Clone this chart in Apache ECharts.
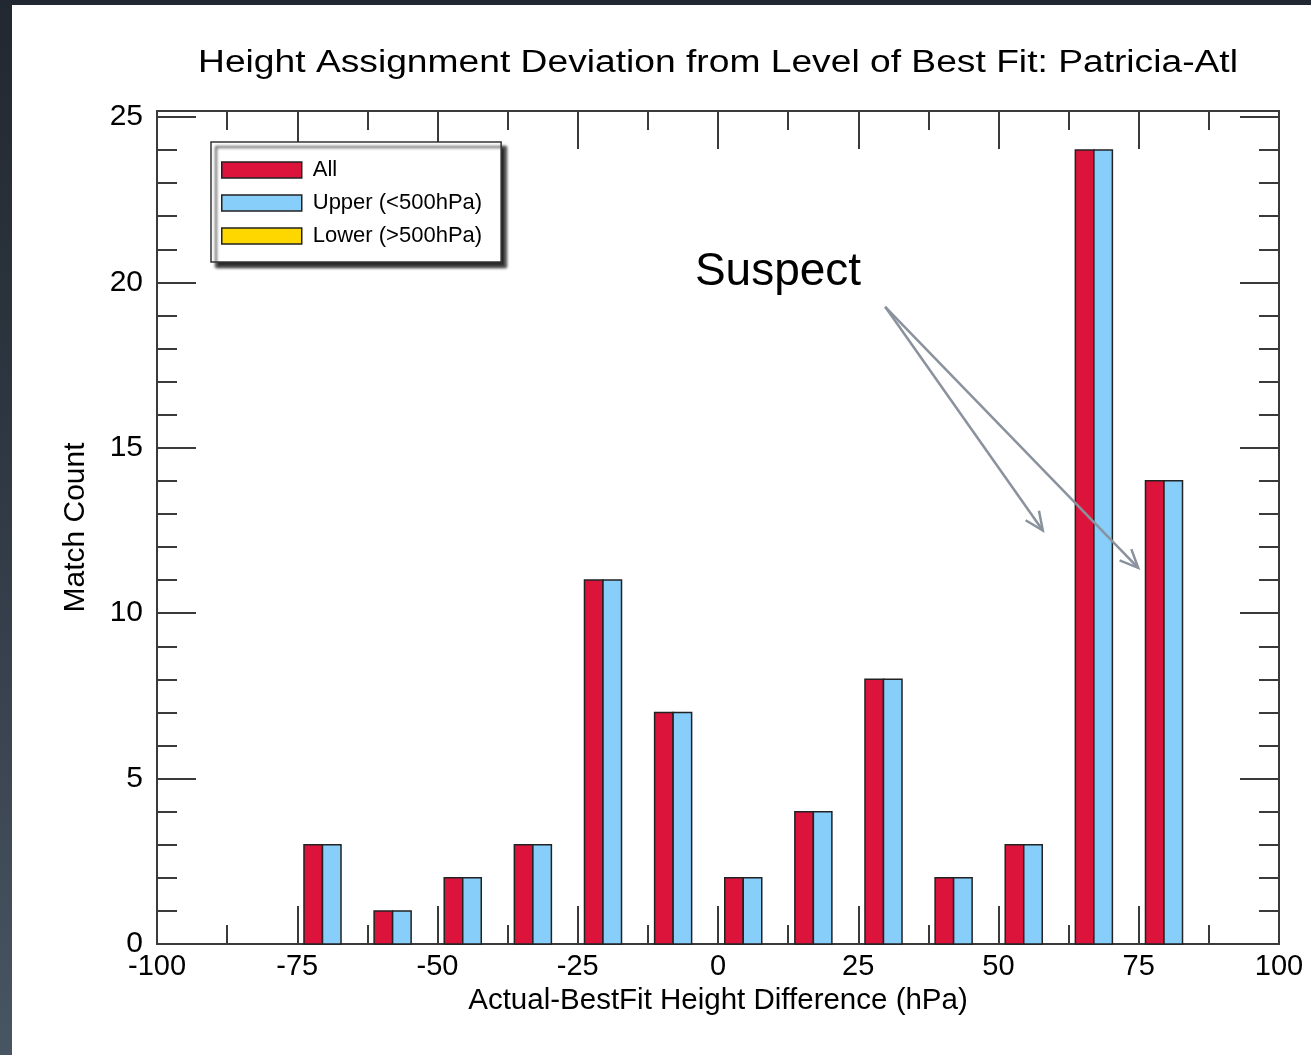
<!DOCTYPE html>
<html>
<head>
<meta charset="utf-8">
<title>Height Assignment Deviation from Level of Best Fit: Patricia-Atl</title>
<script src="https://cdn.jsdelivr.net/npm/echarts@6/dist/echarts.min.js"></script>
<style>
  html, body { margin: 0; padding: 0; }
  body {
    width: 1311px; height: 1055px; overflow: hidden; position: relative;
    background: linear-gradient(to bottom, #222831 0%, #2f3843 45%, #485562 100%);
  }
  #frameTop { position: absolute; left: 0; top: 0; width: 1311px; height: 5px; background: #222831; }
  #chart { position: absolute; left: 12px; top: 5px; width: 1299px; height: 1050px; background: #ffffff; }
</style>
</head>
<body>
<div id="frameTop"></div>
<div id="chart"></div>
<script>
// Bin centres (hPa) of the height-difference histogram
const binCenters = [-70.5, -58, -45.5, -33, -20.5, -8, 4.5, 17, 29.5, 42, 54.5, 67, 79.5];
// Match counts per bin
const allCounts   = [3, 1, 2, 3, 11, 7, 2, 4, 8, 2, 3, 24, 14];
const upperCounts = [3, 1, 2, 3, 11, 7, 2, 4, 8, 2, 3, 24, 14];
const lowerCounts = [0, 0, 0, 0, 0, 0, 0, 0, 0, 0, 0, 0, 0];
// Axis ticks
const xTicks = [-100, -75, -50, -25, 0, 25, 50, 75, 100];
const yTicks = [0, 5, 10, 15, 20, 25];

const seriesNames = ['All', 'Upper (<500hPa)', 'Lower (>500hPa)'];
const seriesColors = ['#dc143c', '#87cefa', '#ffd700'];

const FONT = '"Liberation Sans", Arial, Helvetica, sans-serif';
const AXIS_COLOR = '#3a3a3a';
const BAR_W = 3.3;          // bar width in hPa
const Y_MAX = 25.18;        // plot box reaches just above 25

const chart = echarts.init(document.getElementById('chart'), null, { renderer: 'canvas' });

function toPairs(values) {
  return binCenters.map((c, i) => [c, values[i]]);
}

// Bars drawn from the axis scales; offset is in hPa relative to the bin centre
function barRenderer(offset) {
  return function (params, api) {
    const x = api.value(0);
    const y = api.value(1);
    if (!y) return null;
    const base = api.coord([x + offset, 0]);
    const top = api.coord([x + offset, y]);
    const w = api.size([BAR_W, 0])[0];
    return {
      type: 'rect',
      shape: { x: base[0], y: top[1], width: w, height: base[1] - top[1] },
      style: { fill: api.visual('color'), stroke: '#222222', lineWidth: 1.5 }
    };
  };
}

const xCommon = {
  type: 'value', min: xTicks[0], max: xTicks[xTicks.length - 1], interval: 25,
  axisLine: { show: true, onZero: false, lineStyle: { color: AXIS_COLOR, width: 2 } },
  axisTick: { show: true, inside: true, length: 38, lineStyle: { color: AXIS_COLOR, width: 2 } },
  minorTick: { show: true, splitNumber: 2, length: 19, lineStyle: { color: AXIS_COLOR, width: 2 } },
  splitLine: { show: false }, minorSplitLine: { show: false }
};

function yAxisDef(position, interval, tickLen, showLabel) {
  return {
    type: 'value', position: position, min: yTicks[0], max: Y_MAX, interval: interval,
    axisLine: { show: true, onZero: false, lineStyle: { color: AXIS_COLOR, width: 2 } },
    axisTick: { show: true, inside: true, length: tickLen, lineStyle: { color: AXIS_COLOR, width: 2 } },
    splitLine: { show: false },
    axisLabel: {
      show: showLabel, showMaxLabel: false, fontSize: 30, color: '#000', fontFamily: FONT, margin: 14,
      formatter: v => (yTicks.indexOf(v) >= 0 ? String(v) : '')
    }
  };
}

const leftMajor = yAxisDef('left', 5, 39, true);
leftMajor.name = 'Match Count';
leftMajor.nameLocation = 'middle';
leftMajor.nameRotate = 90;
leftMajor.nameGap = 66;
leftMajor.nameTextStyle = { fontSize: 30, color: '#000', fontFamily: FONT };

const option = {
  animation: false,
  backgroundColor: '#ffffff',
  textStyle: { fontFamily: FONT },
  grid: { left: 145, right: 32, top: 106, bottom: 111, containLabel: false },
  legend: {
    orient: 'vertical', left: 199, top: 137, align: 'left',
    data: seriesNames,
    icon: 'rect', itemWidth: 80, itemHeight: 16, itemGap: 11,
    padding: [17, 19, 15, 10],
    backgroundColor: '#ffffff', borderColor: '#333333', borderWidth: 1.5,
    shadowColor: 'rgba(0,0,0,0.85)', shadowBlur: 3, shadowOffsetX: 5, shadowOffsetY: 5,
    itemStyle: { borderColor: '#222222', borderWidth: 1.5 },
    textStyle: { fontSize: 22, color: '#000', fontFamily: FONT, padding: [0, 0, 0, 6] },
    selectedMode: false
  },
  xAxis: [
    Object.assign({}, xCommon, {
      position: 'bottom',
      axisLabel: { show: true, fontSize: 29, color: '#000', fontFamily: FONT, margin: 8 },
      name: 'Actual-BestFit Height Difference (hPa)', nameLocation: 'middle', nameGap: 36,
      nameTextStyle: { fontSize: 29.5, color: '#000', fontFamily: FONT }
    }),
    Object.assign({}, xCommon, { position: 'top', axisLabel: { show: false } })
  ],
  yAxis: [
    leftMajor,
    yAxisDef('left', 1, 20, false),
    yAxisDef('right', 5, 39, false),
    yAxisDef('right', 1, 20, false)
  ],
  series: [
    { name: seriesNames[0], type: 'custom', xAxisIndex: 0, yAxisIndex: 0,
      itemStyle: { color: seriesColors[0] }, renderItem: barRenderer(-BAR_W),
      encode: { x: 0, y: 1 }, data: toPairs(allCounts) },
    { name: seriesNames[1], type: 'custom', xAxisIndex: 0, yAxisIndex: 0,
      itemStyle: { color: seriesColors[1] }, renderItem: barRenderer(0),
      encode: { x: 0, y: 1 }, data: toPairs(upperCounts) },
    { name: seriesNames[2], type: 'custom', xAxisIndex: 0, yAxisIndex: 0,
      itemStyle: { color: seriesColors[2] }, renderItem: barRenderer(BAR_W),
      encode: { x: 0, y: 1 }, data: toPairs(lowerCounts) }
  ]
};

chart.setOption(option);

// Title, annotation text and arrows pointing at the suspect bins
const toPx = p => chart.convertToPixel({ xAxisIndex: 0, yAxisIndex: 0 }, p);
const suspectLabel = [10.7, 20.3];
const arrowStart = [29.8, 19.26];
const arrowTips = [[57.9, 12.5], [74.9, 11.37]];

const ARROW_COLOR = '#8a929e';
const graphics = [
  {
    type: 'text', x: 706, y: 58, scaleX: 1.2,
    style: {
      text: 'Height Assignment Deviation from Level of Best Fit: Patricia-Atl',
      font: '31px ' + FONT, fill: '#000', align: 'center', verticalAlign: 'middle'
    }
  }
];
const lp = toPx(suspectLabel);
graphics.push({
  type: 'text', x: lp[0], y: lp[1],
  style: { text: 'Suspect', font: '46px ' + FONT, fill: '#000', align: 'center', verticalAlign: 'middle' }
});
const s = toPx(arrowStart);
arrowTips.forEach(t => {
  const e = toPx(t);
  const ang = Math.atan2(e[1] - s[1], e[0] - s[0]);
  const L = 20, spread = 0.42;
  const a1 = [e[0] - L * Math.cos(ang - spread), e[1] - L * Math.sin(ang - spread)];
  const a2 = [e[0] - L * Math.cos(ang + spread), e[1] - L * Math.sin(ang + spread)];
  graphics.push({ type: 'line', shape: { x1: s[0], y1: s[1], x2: e[0], y2: e[1] },
    style: { stroke: ARROW_COLOR, lineWidth: 2.5 }, z: 50 });
  graphics.push({ type: 'polyline', shape: { points: [a1, e, a2] },
    style: { stroke: ARROW_COLOR, lineWidth: 2.5, fill: null, lineJoin: 'miter' }, z: 50 });
});
chart.setOption({ graphic: graphics });
</script>
</body>
</html>
